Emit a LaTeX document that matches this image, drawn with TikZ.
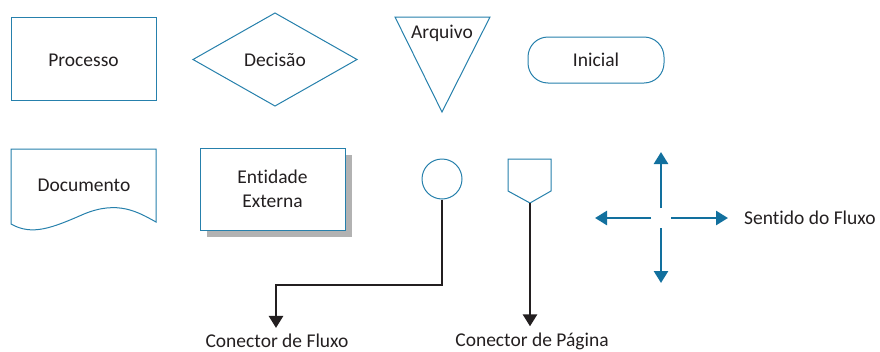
\documentclass[tikz,border=0pt]{standalone}
\usepackage{fontspec}
\setmainfont{Carlito}[Ligatures=NoCommon]
\usepackage{tikz}
\usetikzlibrary{arrows.meta}
\usetikzlibrary{positioning}
\definecolor{azul}{RGB}{38,128,172}
\definecolor{azulseta}{RGB}{18,112,158}
\definecolor{texto}{RGB}{35,31,32}
\tikzset{forma/.style={draw=azul, line width=1pt, fill=white}}
\tikzset{rotulo/.style={text=texto, font=\fontsize{19.5}{24}\selectfont, inner sep=0pt}}
\tikzset{fluxo/.style={line width=2.6pt, draw=texto, -{Triangle[length=12pt,width=14pt]}}}
\tikzset{sentido/.style={line width=2.6pt, draw=azulseta, -{Triangle[length=12pt,width=14pt]}}}
\begin{document}
\begin{tikzpicture}[x=1pt,y=-1pt]
\useasboundingbox (0,0) rectangle (880,351);
% primeira linha
\draw[forma] (11,17) rectangle (156,100);
\node[rotulo] (proc) at (83.5,60) {Processo};
\draw[forma] (193,59.5) -- (275,13) -- (357,59.5) -- (275,106) -- cycle;
\node[rotulo] (dec) at (275,60) {Decisão};
\draw[forma] (395,17) -- (490,17) -- (442,112) -- cycle;
\node[rotulo] (arq) at (442,33) {Arquivo};
\node[forma, rotulo, rounded corners=20pt, minimum width=136pt, minimum height=46pt] (ini) at (596,60) {Inicial};
% segunda linha
\draw[forma] (11,149) -- (156,149) -- (156,222)
  .. controls (138,212) and (118,200) .. (84,214)
  .. controls (52,228) and (32,236) .. (11,224) -- cycle;
\node[rotulo] (doc) at (84,185) {Documento};
\fill[black!30] (207,155) rectangle (352,237);
\node[forma, rotulo, minimum width=145pt, minimum height=82pt, align=center] (ent) at (272.5,189)
  {Entidade\\Externa};
% conectores
\node[forma, circle, minimum size=40pt, inner sep=0pt] (con) at (442,179) {};
\draw[forma] (508,159) -- (551,159) -- (551,191) -- (530,203) -- (508,191) -- cycle;
\coordinate (pag) at (530,203);
\node[rotulo] (lcon) at (277,341) {Conector de Fluxo};
\node[rotulo] (lpag) at (532,341) {Conector de Página};
\draw[fluxo] (con.south) |- (276,285) -- ([yshift=6pt]lcon.north -| 276,0);
\draw[fluxo] (pag) -- ([yshift=6pt]pag |- lpag.north);
% sentido do fluxo
\coordinate (meio) at (661,218);
\draw[sentido] ([yshift=10pt]meio) -- ++(0,-56);
\draw[sentido] ([yshift=-10pt]meio) -- ++(0,55);
\draw[sentido] ([xshift=-10pt]meio) -- ++(-56,0);
\draw[sentido] ([xshift=10pt]meio) -- ++(57,0);
\node[rotulo, anchor=west] (sent) at (744,218) {Sentido do Fluxo};
\end{tikzpicture}
\end{document}
